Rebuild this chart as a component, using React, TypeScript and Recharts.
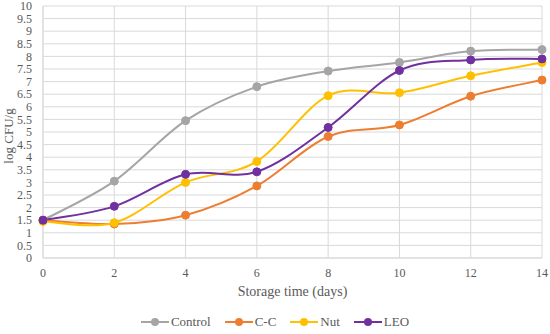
import { LineChart, Line, XAxis, YAxis, CartesianGrid, Label } from "recharts";

const days = [0, 2, 4, 6, 8, 10, 12, 14];
const control = [1.5, 3.05, 5.45, 6.8, 7.42, 7.76, 8.21, 8.27];
const cc = [1.5, 1.35, 1.7, 2.86, 4.82, 5.28, 6.42, 7.06];
const nut = [1.45, 1.4, 3.0, 3.83, 6.44, 6.56, 7.23, 7.76];
const leo = [1.5, 2.05, 3.32, 3.42, 5.18, 7.44, 7.86, 7.9];

const xTicks = [0, 2, 4, 6, 8, 10, 12, 14];
const yTicks = [0, 0.5, 1, 1.5, 2, 2.5, 3, 3.5, 4, 4.5, 5, 5.5, 6, 6.5, 7, 7.5, 8, 8.5, 9, 9.5, 10];

const series = [
  { key: "Control", values: control, color: "#a5a5a5" },
  { key: "C-C", values: cc, color: "#ed7d31" },
  { key: "Nut", values: nut, color: "#ffc000" },
  { key: "LEO", values: leo, color: "#7030a0" },
];

const data = days.map((d, i) => {
  const row: Record<string, number> = { day: d };
  series.forEach((s) => (row[s.key] = s.values[i]));
  return row;
});

// excel-style smoothed line (catmull-rom through the points)
const smoothCurve = (context: any) => {
  let pts: number[][] = [];
  return {
    areaStart() {},
    areaEnd() {},
    lineStart() {
      pts = [];
    },
    point(x: number, y: number) {
      pts.push([+x, +y]);
    },
    lineEnd() {
      if (!pts.length) return;
      context.moveTo(pts[0][0], pts[0][1]);
      for (let i = 0; i < pts.length - 1; i++) {
        const p0 = pts[i - 1] || pts[i];
        const p1 = pts[i];
        const p2 = pts[i + 1];
        const p3 = pts[i + 2] || p2;
        context.bezierCurveTo(
          p1[0] + (p2[0] - p0[0]) / 6,
          p1[1] + (p2[1] - p0[1]) / 6,
          p2[0] - (p3[0] - p1[0]) / 6,
          p2[1] - (p3[1] - p1[1]) / 6,
          p2[0],
          p2[1]
        );
      }
    },
  };
};

const FONT = "'Times New Roman', 'Liberation Serif', serif";

export default function App() {
  return (
    <div style={{ position: "absolute", left: 0, top: 0, width: 550, height: 334, background: "#fff", fontFamily: FONT }}>
      <style>{`.recharts-text, .recharts-label { font-family: ${FONT}; }`}</style>
      <LineChart width={550} height={334} data={data} margin={{ top: 6, right: 8, left: 0, bottom: 36 }}>
        <CartesianGrid stroke="#d9d9d9" strokeWidth={1} />
        <XAxis
          dataKey="day"
          type="number"
          domain={[0, 14]}
          ticks={xTicks}
          height={40}
          tickLine={false}
          axisLine={{ stroke: "#d9d9d9" }}
          tick={{ fontSize: 12, fill: "#595959" }}
          tickMargin={4}
        >
          <Label value="Storage time (days)" position="insideBottom" offset={2} style={{ fontSize: 14, fill: "#595959" }} />
        </XAxis>
        <YAxis
          type="number"
          domain={[0, 10]}
          ticks={yTicks}
          width={43}
          interval={0}
          tickLine={false}
          axisLine={{ stroke: "#d9d9d9" }}
          tick={{ fontSize: 12, fill: "#595959" }}
          tickMargin={5}
        >
          <Label value="log CFU/g" angle={-90} position="insideLeft" offset={8} dy={4} style={{ fontSize: 13, fill: "#595959", textAnchor: "middle" }} />
        </YAxis>
        {series.map((s) => (
          <Line
            key={s.key}
            dataKey={s.key}
            type={smoothCurve as any}
            stroke={s.color}
            strokeWidth={2}
            dot={{ r: 4, fill: s.color, stroke: s.color, strokeWidth: 1 }}
            isAnimationActive={false}
          />
        ))}
      </LineChart>
      <div style={{ position: "absolute", top: 314, left: 0, width: 550, display: "flex", justifyContent: "center", gap: 14, fontSize: 13, color: "#595959" }}>
        {series.map((s) => (
          <div key={s.key} style={{ display: "flex", alignItems: "center", gap: 2 }}>
            <svg width={28} height={10}>
              <line x1={0} y1={5} x2={28} y2={5} stroke={s.color} strokeWidth={2} />
              <circle cx={14} cy={5} r={4} fill={s.color} />
            </svg>
            <span>{s.key}</span>
          </div>
        ))}
      </div>
    </div>
  );
}
